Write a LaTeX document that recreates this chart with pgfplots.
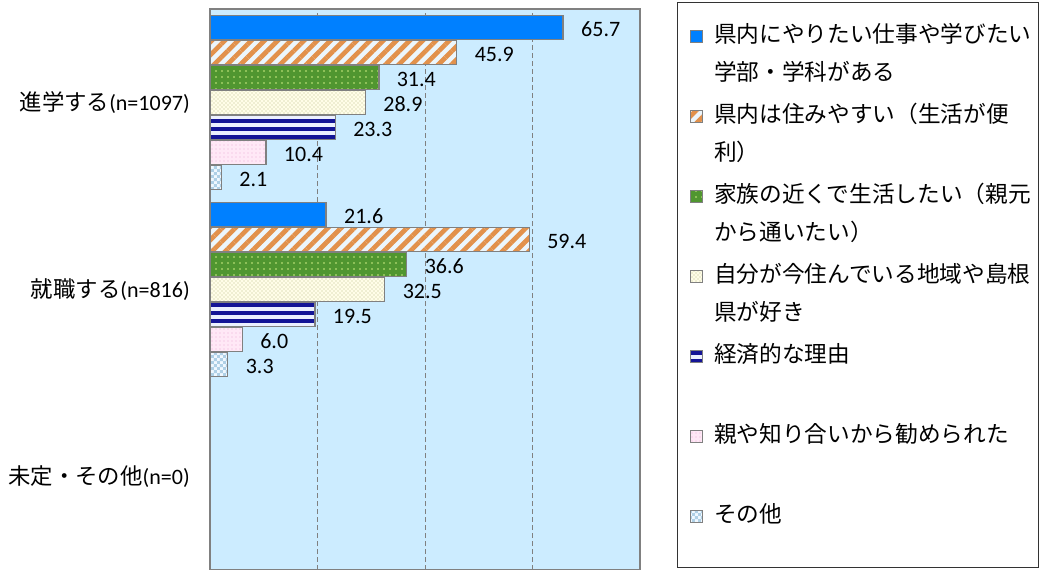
\documentclass[border=0pt]{standalone}
\usepackage{fontspec}
\setmainfont{Carlito}
\newfontfamily\jp{Noto Sans CJK JP}
\usepackage{pgfplots}
\pgfplotsset{compat=1.18}
\usetikzlibrary{patterns,patterns.meta}
\pgfdeclarepatternformonly{finechecker}{\pgfpointorigin}{\pgfpoint{4.4pt}{4.4pt}}{\pgfpoint{4.4pt}{4.4pt}}{%
  \pgfpathrectangle{\pgfpointorigin}{\pgfpoint{2.2pt}{2.2pt}}%
  \pgfpathrectangle{\pgfpoint{2.2pt}{2.2pt}}{\pgfpoint{2.2pt}{2.2pt}}%
  \pgfusepath{fill}}
\definecolor{plotbg}{RGB}{204,236,255}
\definecolor{barborder}{RGB}{128,128,128}
\definecolor{cblue}{RGB}{0,128,255}
\definecolor{corange}{RGB}{226,145,75}
\definecolor{stripebg}{RGB}{236,246,252}
\definecolor{cgreen}{RGB}{80,150,48}
\definecolor{cgreendot}{RGB}{205,235,130}
\definecolor{ccream}{RGB}{255,253,232}
\definecolor{ccreamdot}{RGB}{190,190,140}
\definecolor{cnavy}{RGB}{20,20,150}
\definecolor{cnavybg}{RGB}{236,240,255}
\definecolor{cpink}{RGB}{255,232,246}
\definecolor{cpinkdot}{RGB}{235,175,215}
\definecolor{cchk}{RGB}{240,248,255}
\definecolor{cchkdot}{RGB}{175,208,230}
\begin{document}
\begin{tikzpicture}
\path[use as bounding box] (0,0) rectangle (779.25pt,426.75pt);
\begin{axis}[
  at={(157.5pt,-0.75pt)}, anchor=south west,
  scale only axis, width=322.5pt, height=420.75pt,
  xbar,
  legend image code/.code={\pgfpathmoveto{\pgfpointorigin}\pgfpathlineto{\pgfpoint{9.75pt}{0pt}}\pgfusepath{discard}\draw[#1] (9.75pt,2pt) rectangle (18.75pt,11pt);},
  xmin=0, xmax=80, ymin=-0.5, ymax=2.5,
  xtick={20,40,60}, xticklabels={},
  xmajorgrids, grid style={gray, line width=0.75pt, dash pattern=on 3.75pt off 2.25pt},
  ytick={0,1,2},
  yticklabels={{\jp\fontsize{16.8}{17}\selectfont 未定・その他}(n=0), {\jp\fontsize{16.8}{17}\selectfont 就職する}(n=816), {\jp\fontsize{16.8}{17}\selectfont 進学する}(n=1097)},
  yticklabel style={font=\fontsize{16.5}{17}\selectfont, anchor=east, inner sep=0pt, xshift=-15pt},
  major tick length=0pt,
  axis line style={gray, line width=1pt},
  axis background/.style={fill=plotbg},
  bar width=18pt,
  every axis plot/.append style={draw=barborder, line width=1.1pt},
  nodes near coords={\pgfmathprintnumber[fixed,fixed zerofill,precision=1,assume math mode=true]{\pgfplotspointmeta}},
  nodes near coords style={font=\fontsize{16.5}{17}\selectfont, anchor=west, inner sep=0pt, xshift=13pt, yshift=-1.5pt, black},
  legend style={at={(1,1)}, anchor=north west, xshift=27.75pt, yshift=5.25pt,
    draw=black!80, line width=0.8pt, fill=white, inner xsep=0pt, inner ysep=1.9pt,
    row sep=0pt, column sep=8.25pt,
    nodes={inner sep=0pt, text width=243pt, align=left, text height=27.8pt, text depth=32.2pt,
      font=\jp\fontsize{17}{28.5}\selectfont}},
]
\addplot[fill=cblue, bar shift=56.25pt] coordinates {(65.7,2) (21.6,1)};
\addplot[fill=stripebg, bar shift=37.5pt, postaction={pattern={Lines[angle=45,distance=7pt,line width=3.5pt]}, pattern color=corange}] coordinates {(45.9,2) (59.4,1)};
\addplot[fill=cgreen, bar shift=18.75pt, postaction={pattern={Dots[radius=0.6pt,distance=4.5pt]}, pattern color=cgreendot}] coordinates {(31.4,2) (36.6,1)};
\addplot[fill=ccream, bar shift=0pt, postaction={pattern=crosshatch dots, pattern color=ccreamdot}] coordinates {(28.9,2) (32.5,1)};
\addplot[fill=cnavybg, bar shift=-18.75pt, postaction={pattern={Lines[angle=0,distance=6pt,line width=2.4pt]}, pattern color=cnavy}] coordinates {(23.3,2) (19.5,1)};
\addplot[fill=cpink, bar shift=-37.5pt, postaction={pattern=dots, pattern color=cpinkdot}] coordinates {(10.4,2) (6.0,1)};
\addplot[fill=cchk, bar shift=-56.25pt, postaction={pattern=finechecker, pattern color=cchkdot}] coordinates {(2.1,2) (3.3,1)};
\legend{{県内にやりたい仕事や学びたい\\学部・学科がある}, {県内は住みやすい（生活が便\\利）}, {家族の近くで生活したい（親元\\から通いたい）}, {自分が今住んでいる地域や島根\\県が好き}, {経済的な理由}, {親や知り合いから勧められた}, {その他}}
\end{axis}
\end{tikzpicture}
\end{document}
